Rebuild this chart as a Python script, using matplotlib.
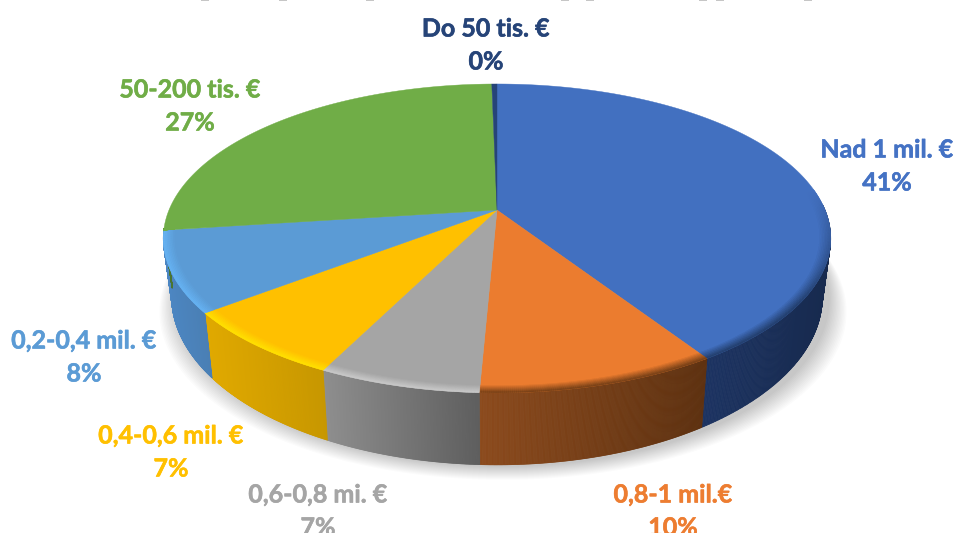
import matplotlib
matplotlib.use('Agg')
import matplotlib.pyplot as plt
import numpy as np
import matplotlib.patheffects as pe
from matplotlib.collections import PolyCollection
from matplotlib.colors import to_rgb

# ------------------------
# Data
# ------------------------
categories = ['Nad 1 mil. €', '0,8-1 mil.€', '0,6-0,8 mi. €', '0,4-0,6 mil. €',
              '0,2-0,4 mil. €', '50-200 tis. €', 'Do 50 tis. €']
shares = [40.9, 9.8, 6.6, 7.2, 8.4, 26.8, 0.3]

# ------------------------
# Style
# ------------------------
top_colors = ['#4270C0', '#EB7C2F', '#A5A5A5', '#FFC000', '#5B9BD5', '#70AD47', '#264478']
text_colors = ['#4472C4', '#ED7D31', '#A5A5A5', '#FFC000', '#5B9BD5', '#70AD47', '#264478']
wall_left = ['#1C3362', '#8C4A1C', '#8E8E8E', '#E0A900', '#4C86C2', '#4A7530', '#1A2E52']
wall_right = ['#172A4E', '#5E3110', '#5E5E5E', '#C89700', '#4A7FB4', '#4A7530', '#1A2E52']
rim_colors = ['#24406F', '#7A4218', '#C8C8C8', '#FFE000', '#66B2F2', '#70AD47', '#264478']
label_pos = [(887, 150), (673, 495), (318, 495), (171, 436), (84, 341), (190, 90), (486, 29)]
# bits of the cut off heading along the top edge
heading_bits = [205, 283, 370, 565, 590, 703, 720, 808]

plt.rcParams['font.family'] = ['Lato', 'DejaVu Sans']

# perspective disc, in pixels of the picture
cx, cy = 497, 210
A, B, p = 328, 149.2, 0.184
line_gap = 33


def disc(theta, r=1.0):
    # theta runs clockwise from the top of the pie
    w = 1 + p * r * np.cos(theta)
    return cx + A * r * np.sin(theta) / w, cy - B * r * np.cos(theta) / w


def lower(x, y):
    # same point on the bottom edge of the pie
    d = 72 - (393 - y) * 0.0875
    return cx + (x - cx) * 0.975, y + d


def mix(c1, c2, t):
    return tuple((1 - t) * a + t * b for a, b in zip(to_rgb(c1), to_rgb(c2)))


fig = plt.figure(figsize=(9.55, 5.33), dpi=100)
ax = fig.add_axes([0, 0, 1, 1])
ax.set_xlim(0, 955)
ax.set_ylim(533, 0)
ax.axis('off')

edges = np.radians(np.concatenate([[0], np.cumsum(shares)]) * 3.6)

# ------------------------
# Soft shadow
# ------------------------
th = np.linspace(0, 2 * np.pi, 400)
for i in range(14, 0, -1):
    sx, sy = lower(*disc(th))
    ax.fill(cx + (sx - cx) * (1 + i * 0.004) + 6, sy + i * 1.0 + 1,
            color='black', alpha=0.016, lw=0, zorder=1)

# ------------------------
# Side wall
# ------------------------
for k in range(len(shares)):
    t1, t2 = max(edges[k], np.radians(88)), min(edges[k + 1], np.radians(263))
    if t2 <= t1:
        continue
    ts = np.linspace(t1, t2, 200)
    x, y = disc(ts)
    xb, yb = lower(x, y)
    quads = [[(x[i], y[i]), (x[i + 1], y[i + 1]), (xb[i + 1], yb[i + 1]), (xb[i], yb[i])]
             for i in range(len(ts) - 1)]
    frac = (x[:-1] - x.min()) / (x.max() - x.min())
    cols = [mix(wall_left[k], wall_right[k], f) for f in frac]
    ax.add_collection(PolyCollection(quads, facecolors=cols, edgecolors=cols,
                                     linewidths=0.5, zorder=2))

# ------------------------
# Top face
# ------------------------
for k in range(len(shares)):
    ts = np.linspace(edges[k], edges[k + 1], 160)
    x, y = disc(ts)
    ax.fill(np.r_[cx, x], np.r_[cy, y], color=top_colors[k], lw=0.3, zorder=3)

# bevel along the front edge, fading out towards the back of the pie
radii = np.linspace(0.968, 1.0, 8)
fade_start, fade_end = np.radians(82), np.radians(125)
for k in range(len(shares)):
    t1, t2 = max(edges[k], fade_start), min(edges[k + 1], np.radians(263))
    if t2 <= t1:
        continue
    ts = np.linspace(t1, t2, 120)
    for j in range(len(radii) - 1):
        x1, y1 = disc(ts, radii[j])
        x2, y2 = disc(ts, radii[j + 1])
        quads = [[(x1[i], y1[i]), (x1[i + 1], y1[i + 1]), (x2[i + 1], y2[i + 1]), (x2[i], y2[i])]
                 for i in range(len(ts) - 1)]
        fade = np.clip((ts[:-1] - fade_start) / (fade_end - fade_start), 0, 1)
        cols = [mix(top_colors[k], rim_colors[k], f * (j + 1) / (len(radii) - 1)) for f in fade]
        ax.add_collection(PolyCollection(quads, facecolors=cols, edgecolors=cols,
                                         linewidths=0.3, zorder=4))

# ------------------------
# Labels
# ------------------------
for name, share, (lx, ly), col in zip(categories, shares, label_pos, text_colors):
    for txt, ty in [(name, ly), (f'{share:.0f}%', ly + line_gap)]:
        t = ax.text(lx, ty, txt, color=col, fontsize=18, fontweight='bold',
                    ha='center', va='center')
        t.set_path_effects([pe.withStroke(linewidth=0.4, foreground=col)])

ax.hlines([0.2] * len(heading_bits), np.array(heading_bits) - 4, np.array(heading_bits) + 4,
          color='#BBBBBB', lw=1.2)

plt.savefig('out.png', dpi=100)
